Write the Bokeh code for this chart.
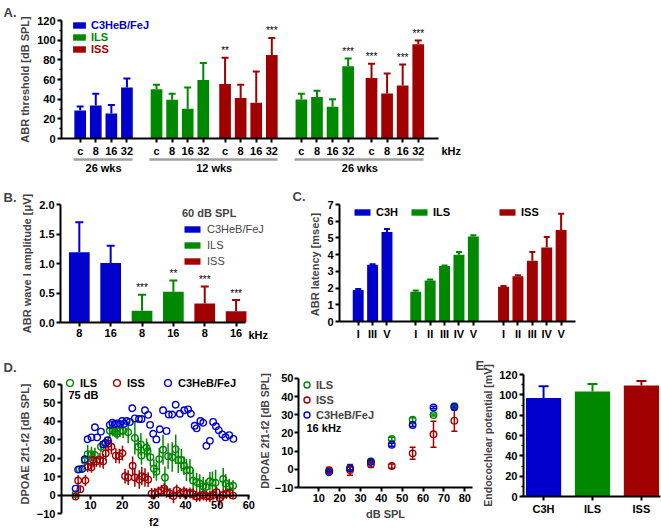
from bokeh.plotting import figure
from bokeh.layouts import row, column
from bokeh.models import (ColumnDataSource, Range1d, FixedTicker, SingleIntervalTicker, Legend,
                          LegendItem, Label, LinearAxis, Whisker, TeeHead, NumeralTickFormatter)
from bokeh.core.properties import value
from bokeh.embed import file_html
from bokeh.resources import INLINE

FONT = "Liberation Sans"
BLUE, GREEN, RED = "#0000CC", "#008800", "#A00000"

# ---------------- data ----------------
# A. ABR thresholds
A_FREQ = ["c", "8", "16", "32"]
A_C3H_26_MEAN = [28.6, 33.5, 25.4, 51.8]
A_C3H_26_SEM = [3.9, 11.9, 8.7, 9.2]
A_ILS_12_MEAN = [50.2, 39.3, 30.2, 59.5]
A_ILS_12_SEM = [4.5, 6.1, 21.6, 17.4]
A_ISS_12_MEAN = [55.3, 41.2, 36.4, 85.0]
A_ISS_12_SEM = [26.7, 13.5, 31.8, 17.3]
A_ILS_26_MEAN = [39.6, 42.1, 32.2, 73.4]
A_ILS_26_SEM = [5.8, 6.5, 7.7, 8.0]
A_ISS_26_MEAN = [61.5, 45.7, 54.0, 95.9]
A_ISS_26_SEM = [14.4, 20.3, 21.3, 3.8]
A_ISS_12_SIG = ["**", "", "", "***"]
A_ILS_26_SIG = ["", "", "", "***"]
A_ISS_26_SIG = ["***", "", "***", "***"]
A_AGES = ["26 wks", "12 wks", "26 wks"]

# B. wave I amplitude at 60 dB SPL
B_FREQ = ["8", "16", "8", "16", "8", "16"]
B_STRAIN = ["C3HeB/FeJ", "C3HeB/FeJ", "ILS", "ILS", "ISS", "ISS"]
B_MEAN = [1.19, 1.01, 0.20, 0.52, 0.32, 0.19]
B_SEM = [0.51, 0.29, 0.27, 0.19, 0.29, 0.19]
B_SIG = ["", "", "***", "**", "***", "***"]

# C. ABR latencies
C_C3H_WAVES = ["I", "III", "V"]
C_C3H_MEAN = [1.89, 3.40, 5.36]
C_C3H_SEM = [0.06, 0.02, 0.17]
C_WAVES = ["I", "II", "III", "IV", "V"]
C_ILS_MEAN = [1.78, 2.45, 3.32, 3.99, 5.08]
C_ILS_SEM = [0.08, 0.07, 0.03, 0.17, 0.08]
C_ISS_MEAN = [2.08, 2.71, 3.64, 4.42, 5.47]
C_ISS_SEM = [0.05, 0.05, 0.52, 0.64, 0.97]

# D. DPOAE vs f2 at 75 dB
D_ILS_F2 = [5.3, 6.6, 8.2, 9.1, 10.3, 11.4, 13.3, 14.7, 16.1, 17.0, 17.7, 18.4, 19.3, 20.3, 21.9,
            24.0, 25.1, 25.9, 26.1, 27.7, 28.0, 28.9, 30.0, 30.8, 31.7, 32.9, 33.5, 34.5, 35.8, 36.9,
            37.7, 38.7, 39.5, 40.3, 41.4, 42.4, 43.5, 44.5, 45.6, 46.4, 47.7, 48.5, 49.5, 51.9, 52.7,
            53.8, 55.0]
D_ILS_DP = [0.5, 14.0, 18.6, 22.2, 22.2, 21.7, 26.2, 28.0, 34.9, 34.9, 34.4, 33.3, 34.6, 34.9, 34.1,
            31.0, 26.2, 27.5, 21.4, 25.7, 23.8, 20.6, 14.3, 12.7, 19.5, 24.6, 9.5, 21.1, 20.6, 24.9,
            19.0, 19.0, 15.9, 13.5, 13.5, 7.9, 7.1, 6.3, 4.8, 4.3, 7.5, 6.8, 6.7, 8.7, 6.3,
            4.8, 5.1]
D_ILS_SEM = [1.0, 2.0, 3.0, 5.0, 4.0, 4.0, 3.0, 3.0, 4.0, 3.0, 3.0, 3.0, 3.0, 4.0, 6.0,
             9.0, 5.0, 6.0, 5.0, 5.0, 5.0, 5.0, 5.0, 5.0, 6.0, 8.0, 6.0, 7.0, 8.0, 8.0,
             7.0, 6.0, 5.0, 6.0, 6.0, 6.0, 5.0, 5.0, 5.0, 4.0, 5.0, 6.0, 7.0, 6.0, 5.0,
             4.0, 3.0]
D_ISS_F2 = [5.3, 6.1, 6.8, 8.4, 9.1, 10.3, 10.8, 11.9, 13.0, 14.0, 14.8, 15.6, 16.6, 18.0, 19.1,
            20.1, 20.9, 21.9, 23.3, 24.0, 25.4, 26.2, 27.2, 28.2, 29.3, 30.3, 31.4, 32.4, 33.3, 34.0,
            35.1, 36.2, 37.2, 38.3, 39.5, 40.3, 41.4, 42.4, 43.5, 44.5, 45.6, 46.6, 47.7, 48.7, 49.8,
            50.8, 51.9, 52.9, 54.0, 55.0]
D_ISS_DP = [-0.8, 7.9, 3.2, 7.9, 15.4, 15.1, 19.0, 18.3, 19.0, 18.3, 22.7, 27.8, 26.2, 21.4, 21.1,
            22.7, 10.3, 9.5, 15.9, 9.5, 8.4, 10.3, 9.5, 8.4, 0.8, 0.8, 1.6, 2.4, 3.5, 1.6,
            0.8, -0.5, 2.7, 0.8, 1.6, 0.8, 1.1, 0.5, -0.8, -0.5, 0.0, -0.5, -0.8, 0.0, 1.6,
            -1.6, 0.0, 0.8, 1.1, -0.3]
D_ISS_SEM = [1.5, 3.0, 2.0, 3.0, 3.0, 3.0, 4.0, 3.0, 4.0, 4.0, 4.0, 4.0, 4.0, 4.0, 4.0,
             4.0, 4.0, 4.0, 5.0, 5.0, 5.0, 5.0, 5.0, 4.0, 3.0, 3.0, 3.0, 3.0, 3.0, 3.0,
             3.0, 4.0, 3.0, 3.0, 3.0, 3.0, 3.0, 3.0, 3.0, 3.0, 3.0, 3.0, 3.0, 3.0, 3.0,
             4.0, 3.0, 3.0, 3.0, 2.0]
D_C3H_F2 = [5.3, 6.1, 7.4, 8.2, 9.1, 10.3, 11.4, 12.1, 13.3, 14.0, 14.7, 15.4, 16.1, 16.9, 17.7,
            18.4, 19.3, 20.0, 20.6, 21.4, 22.4, 23.2, 24.0, 25.3, 26.1, 27.2, 28.2, 28.8, 29.8, 30.8,
            31.9, 32.9, 34.0, 34.7, 35.8, 36.9, 38.2, 39.6, 40.8, 41.7, 42.9, 43.5, 44.7, 45.6, 46.6,
            47.7, 48.7, 49.6, 50.5, 51.6, 52.6, 53.8, 55.1]
D_C3H_DP = [3.5, 13.8, 14.1, 19.4, 30.3, 31.3, 36.8, 31.3, 34.4, 27.5, 28.3, 29.7, 38.1, 39.2, 38.4,
            38.9, 38.6, 40.2, 38.6, 40.2, 39.7, 47.1, 41.6, 41.3, 41.3, 46.0, 43.5, 38.1, 33.3, 30.2,
            35.7, 46.0, 34.8, 43.7, 43.7, 49.0, 44.1, 46.0, 46.5, 44.1, 37.6, 36.2, 40.2, 39.2, 26.7,
            29.4, 39.7, 37.3, 35.2, 32.9, 31.4, 32.5, 30.5]

# D. DPOAE growth at 16 kHz
D2_SPL = [15, 25, 35, 45, 55, 65, 75]
D2_ILS = [-1.2, 0.5, 4.5, 16.7, 27.3, 29.9, 34.7]
D2_ILS_SEM = [0.8, 0.8, 0.8, 0.9, 1.1, 0.6, 1.1]
D2_ISS = [-0.5, -0.3, 2.6, 1.8, 8.8, 19.3, 26.8]
D2_ISS_SEM = [1.5, 3.0, 1.3, 1.2, 3.3, 7.2, 5.9]
D2_C3H = [-1.6, 0.6, 4.0, 13.5, 24.4, 34.0, 34.3]
D2_C3H_SEM = [0.5, 0.8, 1.0, 0.8, 0.8, 0.6, 0.6]

# E. endocochlear potential
E_STRAIN = ["C3H", "ILS", "ISS"]
E_MEAN = [97.0, 103.4, 109.1]
E_SEM = [11.5, 7.3, 4.5]


# ---------------- helpers ----------------
def style_axis(ax):
    ax.axis_line_width = 2
    ax.axis_line_color = "black"
    ax.major_tick_line_width = 2
    ax.minor_tick_line_width = 1.5
    ax.major_tick_out = 4
    ax.major_tick_in = 0
    ax.minor_tick_out = 2
    ax.minor_tick_in = 0
    ax.major_label_text_font = FONT
    ax.major_label_text_font_style = "bold"
    ax.major_label_text_font_size = "11px"
    ax.major_label_text_color = "black"
    ax.major_label_standoff = 2
    ax.axis_label_text_font = FONT
    ax.axis_label_text_font_style = "bold"
    ax.axis_label_text_font_size = "11px"
    ax.axis_label_standoff = 3


def mkfig(fw, fh, bl, br, bt, bb, xr, yr, letter=None, letter_dx=0, letter_standoff=0):
    p = figure(frame_width=fw, frame_height=fh, x_range=xr, y_range=yr, output_backend="svg",
               toolbar_location=None, min_border_left=bl, min_border_right=br,
               min_border_top=bt, min_border_bottom=bb)
    p.xgrid.visible = False
    p.ygrid.visible = False
    p.outline_line_color = None
    for ax in p.axis:
        style_axis(ax)
    if letter:
        p.title.text = letter
        p.title.align = "left"
        p.title.offset = letter_dx
        p.title.standoff = letter_standoff
        p.title.text_font = FONT
        p.title.text_font_size = "13px"
        p.title.text_font_style = "bold"
    return p


def note(p, text, x, y, dx, dy, side=None, size="11px", align="left", bold=True):
    lab = Label(x=x, y=y, x_offset=dx, y_offset=dy, text=text, text_font=FONT,
                text_font_size=size, text_font_style="bold" if bold else "normal",
                text_align=align, text_baseline="middle", text_color="black")
    if side:
        p.add_layout(lab, side)
    else:
        p.add_layout(lab)


def bars(p, xs, means, sems, color, width, sig=None, cap=7, lw=2):
    src = ColumnDataSource(dict(x=xs, top=means, upper=[m + s for m, s in zip(means, sems)],
                                sig=sig if sig else [""] * len(xs)))
    r = p.vbar(x="x", top="top", width=width, source=src, fill_color=color, line_color=None)
    p.add_layout(Whisker(source=src, base="x", lower="top", upper="upper", dimension="height",
                         line_color=color, line_width=lw, lower_head=None,
                         upper_head=TeeHead(size=cap, line_color=color, line_width=lw)))
    if sig:
        p.text(x="x", y="upper", text="sig", source=src, text_align="center",
               text_baseline="middle", y_offset=-7, text_font=value(FONT),
               text_font_size="10px", text_color="black")
    return r


def one_legend(p, label, r, x, y, gw, gh, color="black", bold=True, standoff=4):
    p.add_layout(Legend(items=[LegendItem(label=label, renderers=[r])], location=(x, y),
                        glyph_width=gw, glyph_height=gh, label_height=gh, padding=0, margin=0,
                        spacing=0, label_standoff=standoff, border_line_color=None,
                        background_fill_alpha=0, label_text_color=color, label_text_font=FONT,
                        label_text_font_style="bold" if bold else "normal",
                        label_text_font_size="11px"))


# ---------------- A ----------------
A_STARTS = [12, 61, 105, 154, 199]
A_W = 7.5
A_FW, A_FH, A_XMAX = 377, 118, 242
pa = mkfig(A_FW, A_FH, 61, 223, 20, 45, Range1d(0, A_XMAX), Range1d(0, 120),
           "A.", -58, 2)
a_groups = [(A_C3H_26_MEAN, A_C3H_26_SEM, None, BLUE),
            (A_ILS_12_MEAN, A_ILS_12_SEM, None, GREEN),
            (A_ISS_12_MEAN, A_ISS_12_SEM, A_ISS_12_SIG, RED),
            (A_ILS_26_MEAN, A_ILS_26_SEM, A_ILS_26_SIG, GREEN),
            (A_ISS_26_MEAN, A_ISS_26_SEM, A_ISS_26_SIG, RED)]
a_ticks, a_over, a_rend, a_xs = [], {}, [], []
for (m, s, sig, c), st in zip(a_groups, A_STARTS):
    xs = [st + 10 * i for i in range(len(m))]
    a_xs.append(xs)
    a_rend.append(bars(pa, xs, m, s, c, A_W, sig))
    for x, f in zip(xs, A_FREQ):
        a_ticks.append(x)
        a_over[x] = f
pa.xaxis.ticker = FixedTicker(ticks=a_ticks)
pa.xaxis.major_label_overrides = a_over
pa.yaxis.ticker = SingleIntervalTicker(interval=20, num_minor_ticks=2)
pa.yaxis.axis_label = "ABR threshold [dB SPL]"

# age-group axis: labels centred under each group, grey rule broken between groups
spans = []
for grp in [[0], [1, 2], [3, 4]]:
    spans.append((min(a_xs[grp[0]]) - A_W / 2 - 0.25, max(a_xs[grp[-1]]) + A_W / 2 + 0.25))
px = A_FW / A_XMAX
dash = []
for i, (lo, hi) in enumerate(spans):
    if i:
        dash.append(round((lo - spans[i - 1][1]) * px))
    dash.append(round((hi - lo) * px))
dash.append(400)
centers = [(lo + hi) / 2 for lo, hi in spans]
gax = LinearAxis(bounds=(spans[0][0], spans[-1][1]), ticker=FixedTicker(ticks=centers),
                 major_label_overrides={c: a for c, a in zip(centers, A_AGES)})
style_axis(gax)
gax.axis_line_color = "#a0a0a0"
gax.axis_line_width = 2.5
gax.axis_line_dash = " ".join(str(d) for d in dash)
gax.major_tick_out = 0
gax.minor_tick_out = 0
gax.major_tick_line_color = None
gax.minor_tick_line_color = None
gax.major_label_standoff = 2
pa.add_layout(gax, "below")
note(pa, "kHz", A_XMAX, 0, 3, -12, side="right")
one_legend(pa, "C3HeB/FeJ", a_rend[0], 10, A_FH - 11, 16, 8, BLUE)
one_legend(pa, "ILS", a_rend[1], 10, A_FH - 23, 16, 8, GREEN)
one_legend(pa, "ISS", a_rend[2], 10, A_FH - 35, 16, 8, RED)

# ---------------- B ----------------
B_FW, B_FH = 205, 118
pb = mkfig(B_FW, B_FH, 60, 20, 20, 25, Range1d(0, 59 * B_FW / 185), Range1d(0, 2.0),
           "B.", -57, 0)
pb.xaxis.bounds = (0, 59)
b_x = [6 + 10 * i for i in range(len(B_MEAN))]
b_col = {"C3HeB/FeJ": BLUE, "ILS": GREEN, "ISS": RED}
b_items = []
for strain, col in b_col.items():
    idx = [i for i, s in enumerate(B_STRAIN) if s == strain]
    r = bars(pb, [b_x[i] for i in idx], [B_MEAN[i] for i in idx], [B_SEM[i] for i in idx],
             col, 6.6, [B_SIG[i] for i in idx], cap=8)
    b_items.append(LegendItem(label=strain, renderers=[r]))
pb.xaxis.ticker = FixedTicker(ticks=b_x)
pb.xaxis.major_label_overrides = {x: f for x, f in zip(b_x, B_FREQ)}
pb.yaxis.ticker = SingleIntervalTicker(interval=0.5, num_minor_ticks=0)
pb.yaxis.formatter = NumeralTickFormatter(format="0.0")
pb.yaxis.axis_label = "ABR wave I amplitude [μV]"
pb.add_layout(Legend(items=b_items, location=(122, B_FH - 63), title="60 dB SPL", title_standoff=3,
                     title_text_font=FONT, title_text_font_style="bold", title_text_font_size="11px",
                     glyph_width=20, glyph_height=8, label_height=13, padding=0, margin=0, spacing=3,
                     label_standoff=5, border_line_color=None, background_fill_alpha=0,
                     label_text_font=FONT, label_text_font_size="11px"))
note(pb, "kHz", 59, 0, 3, -12, side="right")

# ---------------- C ----------------
C_FH = 117
pc = mkfig(236, C_FH, 54, 86, 21, 25, Range1d(0, 164), Range1d(0, 7), "C.", -47, 2)
c_sets = [(C_C3H_WAVES, C_C3H_MEAN, C_C3H_SEM, BLUE, 13, "C3H", 13),
          (C_WAVES, C_ILS_MEAN, C_ILS_SEM, GREEN, 53, "ILS", 70),
          (C_WAVES, C_ISS_MEAN, C_ISS_SEM, RED, 114, "ISS", 158)]
c_ticks, c_over = [], {}
for waves, m, s, col, st, lab, lx in c_sets:
    xs = [st + 10 * i for i in range(len(m))]
    r = bars(pc, xs, m, s, col, 7.6, cap=6)
    one_legend(pc, lab, r, lx, C_FH - 14, 20, 8)
    for x, wv in zip(xs, waves):
        c_ticks.append(x)
        c_over[x] = wv
pc.xaxis.ticker = FixedTicker(ticks=c_ticks)
pc.xaxis.major_label_overrides = c_over
pc.yaxis.ticker = SingleIntervalTicker(interval=1, num_minor_ticks=0)
pc.yaxis.axis_label = "ABR  latency [msec]"

# ---------------- D left ----------------
D_FH = 139
D_X0, D_X1 = 0.84, 60.2
d_px = 188 / (D_X1 - D_X0)
pd = mkfig(194, D_FH, 61, 0, 19, 26, Range1d(D_X0, D_X1 + 6 / d_px), Range1d(-10, 65.4),
           "D.", -58, 0)
pd.yaxis.bounds = (-10, 60)
pd.xaxis.bounds = (D_X0, D_X1)
pd.xaxis.fixed_location = 0
pd.xaxis.ticker = SingleIntervalTicker(interval=10, num_minor_ticks=0)
pd.yaxis.ticker = SingleIntervalTicker(interval=10, num_minor_ticks=0)
pd.yaxis.axis_label = "DPOAE 2f1-f2 [dB SPL]"


def dots(p, xs, ys, sems, col, cap=None, lw=1.5):
    src = ColumnDataSource(dict(x=xs, y=ys))
    if sems is not None:
        src.data["lo"] = [y - e for y, e in zip(ys, sems)]
        src.data["hi"] = [y + e for y, e in zip(ys, sems)]
        head = (lambda: TeeHead(size=cap, line_color=col, line_width=lw)) if cap else (lambda: None)
        p.add_layout(Whisker(source=src, base="x", lower="lo", upper="hi", dimension="height",
                             line_color=col, line_width=lw, lower_head=head(), upper_head=head()))
    return p.scatter("x", "y", source=src, marker="circle", size=6.5, fill_color=None,
                     line_color=col, line_width=1.4)


rd_ils = dots(pd, D_ILS_F2, D_ILS_DP, D_ILS_SEM, GREEN)
rd_iss = dots(pd, D_ISS_F2, D_ISS_DP, D_ISS_SEM, RED)
rd_c3h = dots(pd, D_C3H_F2, D_C3H_DP, None, BLUE)
one_legend(pd, "ILS", rd_ils, 0, D_FH - 17, 17, 17, standoff=2)
one_legend(pd, "ISS", rd_iss, 47, D_FH - 17, 17, 17, standoff=2)
one_legend(pd, "C3HeB/FeJ", rd_c3h, 98, D_FH - 17, 17, 17, standoff=2)
note(pd, "75 dB", D_X0, 60, 7, -11)
note(pd, "f2", 30, 0, 0, -27, side="left", align="center")

# ---------------- D right ----------------
D2_FH = 113
pd2 = mkfig(174, D2_FH, 38, 3, 27, 44, Range1d(0.27, 83.7), Range1d(-10, 52.2))
pd2.yaxis.bounds = (-10, 50)
pd2.xaxis.ticker = SingleIntervalTicker(interval=10, num_minor_ticks=0)
pd2.yaxis.ticker = SingleIntervalTicker(interval=10, num_minor_ticks=0)
pd2.xaxis.axis_label = "dB SPL"
pd2.yaxis.axis_label = "DPOAE 2f1-f2 [dB SPL]"
pd2.yaxis.major_label_standoff = 1
pd2.yaxis.axis_label_standoff = 1
pd2.yaxis.axis_label_text_font_size = "10.5px"
r2_ils = dots(pd2, D2_SPL, D2_ILS, D2_ILS_SEM, GREEN, cap=6)
r2_iss = dots(pd2, D2_SPL, D2_ISS, D2_ISS_SEM, RED, cap=6)
r2_c3h = dots(pd2, D2_SPL, D2_C3H, D2_C3H_SEM, BLUE, cap=6)
pd2.add_layout(Legend(items=[LegendItem(label="ILS", renderers=[r2_ils]),
                             LegendItem(label="ISS", renderers=[r2_iss]),
                             LegendItem(label="C3HeB/FeJ", renderers=[r2_c3h])],
                      location=(1, D2_FH - 48), glyph_width=15, glyph_height=15, label_height=15,
                      padding=0, margin=0, spacing=0, label_standoff=2, border_line_color=None,
                      background_fill_alpha=0, label_text_font=FONT, label_text_font_style="bold",
                      label_text_font_size="11px"))
note(pd2, "16 kHz", 0.27, 50, 8, -50)

# ---------------- E ----------------
pe = mkfig(137, 122, 48, 6, 28, 34, Range1d(-0.41, 2.39), Range1d(0, 120), "E.", -48, 4)
e_x = list(range(len(E_MEAN)))
for i, col in enumerate([BLUE, GREEN, RED]):
    bars(pe, [e_x[i]], [E_MEAN[i]], [E_SEM[i]], col, 0.72, cap=10)
pe.xaxis.ticker = FixedTicker(ticks=e_x)
pe.xaxis.major_label_overrides = {x: s for x, s in zip(e_x, E_STRAIN)}
pe.yaxis.ticker = SingleIntervalTicker(interval=20, num_minor_ticks=2)
pe.yaxis.axis_label = "Endocochlear potential [mV]"
pe.yaxis.axis_label_text_font_size = "10.5px"
pe.yaxis.axis_label_standoff = 2

layout = column(pa, row(pb, pc), row(pd, pd2, pe))
open("out.html", "w").write(file_html(layout, INLINE))
